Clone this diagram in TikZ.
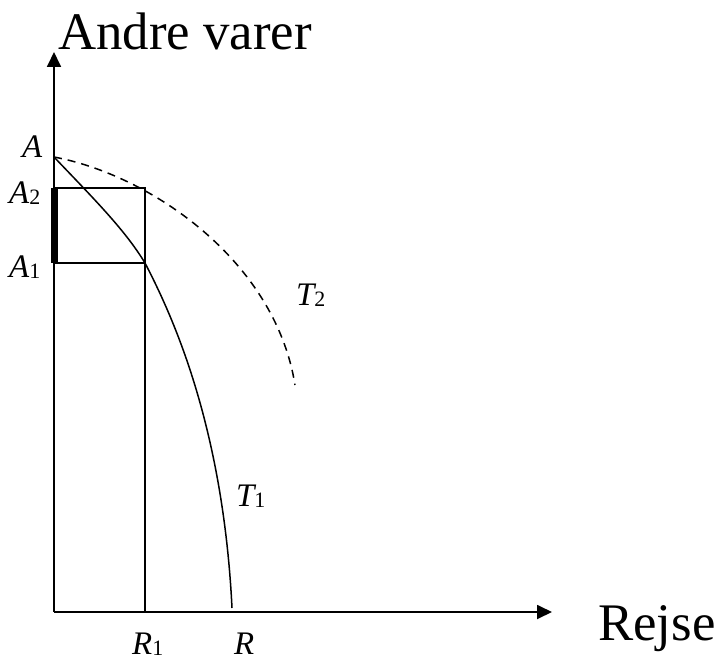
\documentclass[tikz,border=0pt]{standalone}
\usepackage{fontspec}
\setmainfont{Liberation Serif}
\usetikzlibrary{arrows.meta}
\newcommand{\lab}[2]{{\fontsize{33}{33}\selectfont\itshape #1}\raisebox{-0.28ex}{\fontsize{22}{22}\selectfont\upshape #2}}
\begin{document}
\begin{tikzpicture}[x=1bp,y=-1bp,
  axis/.style={line width=1.8bp,-{Triangle[length=15bp,width=14bp]}},
  thin/.style={line width=1.3bp},
  curve/.style={line width=1.5bp},
  lbl/.style={inner sep=0pt,anchor=base west},
  big/.style={inner sep=0pt,anchor=base west,font=\fontsize{53}{53}\selectfont}]
\useasboundingbox (0,0) rectangle (723,664);
\coordinate (O) at (54,612);
\coordinate (Ytip) at (54,52);
\coordinate (Xtip) at (552,612);
\coordinate (A) at (54,157);
\coordinate (A2) at (54,188);
\coordinate (A1) at (54,263);
\coordinate (P2) at (145,188);
\coordinate (P1) at (145,263);
\coordinate (R1) at (145,612);
\coordinate (R) at (232,608);
\coordinate (T2end) at (295,385);
% axes
\draw[axis] (O) -- (Ytip);
\draw[axis] (O) -- (Xtip);
% rectangle lines
\draw[thin] (A2) -- (P2) -- (R1);
\draw[thin] (A1) -- (P1);
% thick bar
\draw[line width=6.5bp] ([xshift=0.5bp]A2) -- ([xshift=0.5bp]A1);
% T1
\draw[curve] (A) .. controls (95,200) and (125,230) .. (P1)
  .. controls (172,315) and (223,425) .. (R);
% T2
\draw[curve,dash pattern=on 8bp off 6bp] (A) .. controls (150,175) and (275,260) .. (T2end);
% labels
\node[big] (ylab) at (58,50) {Andre varer};
\node[big] (xlab) at (598,640) {Rejse};
\node[lbl] (lA) at (22,157) {\lab{A}{}};
\node[lbl] (lA2) at (9,203) {\lab{A}{2}};
\node[lbl] (lA1) at (9,277) {\lab{A}{1}};
\node[lbl] (lR1) at (132,654) {\lab{R}{1}};
\node[lbl] (lR) at (234,654) {\lab{R}{}};
\node[lbl] (lT2) at (296,305) {\lab{T}{2}};
\node[lbl] (lT1) at (236,506) {\lab{T}{1}};
\end{tikzpicture}
\end{document}
